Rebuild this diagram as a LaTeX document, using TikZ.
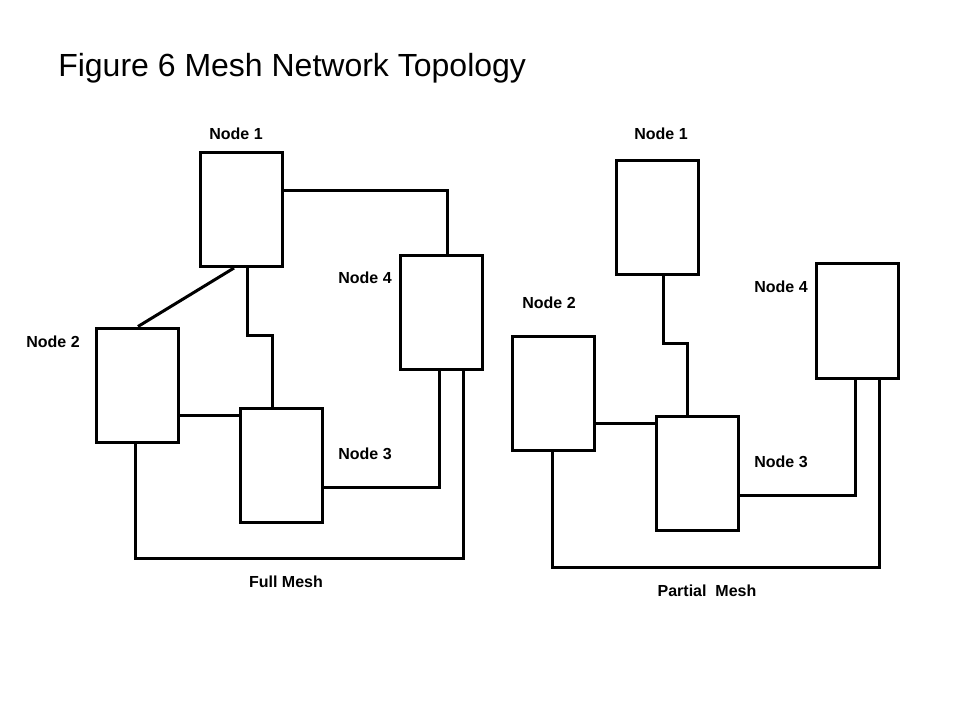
\documentclass[tikz,border=0pt]{standalone}
\usepackage{fontspec}
\setmainfont{Liberation Sans}
\usepackage{tikz}
\usetikzlibrary{positioning}

\begin{document}
\begin{tikzpicture}[
    x=0.75pt, y=-0.75pt,
    box/.style={rectangle, draw, line width=2.25pt, minimum width=61.5pt, minimum height=85.5pt, inner sep=0pt},
    lbl/.style={font=\fontsize{12}{14}\selectfont\bfseries, inner sep=0pt},
    link/.style={line width=2.25pt}
]
    \useasboundingbox (0,0) rectangle (960,720);

    % Title
    \node[anchor=base west, inner sep=0pt, font=\fontsize{24}{28}\selectfont] (title) at (58,77) {Figure 6 Mesh Network Topology};

    % Full mesh nodes
    \node[box] (lt1) at (241.5,209.5) {};
    \node[box] (lt4) at (441.5,312.5) {};
    \node[box] (lt2) at (137,385) {};
    \node[box] (lt3) at (281.5,465) {};

    \node[lbl] (lt1lbl) at (236,134) {Node 1};
    \node[lbl] (lt4lbl) at (365,278) {Node 4};
    \node[lbl] (lt2lbl) at (53,342) {Node 2};
    \node[lbl] (lt3lbl) at (365,454) {Node 3};
    \node[lbl] (fullcap) at (286,582) {Full Mesh};

    % Full mesh links
    \draw[link] (lt1.east |- 0,191) -| (lt4.north -| 447,0);
    \draw[link] (lt1.south -| 234,0) -- (lt2.north -| 138,0);
    \draw[link] (lt1.south -| 247,0) -- (247,335) -- (272,335) -- (lt3.north -| 272,0);
    \draw[link] (lt2.east |- 0,415) -- (lt3.west |- 0,415);
    \draw[link] (lt3.east |- 0,487) -| (lt4.south -| 439,0);
    \draw[link] (lt2.south -| 135,0) -- (135,558) -| (lt4.south -| 463,0);

    % Partial mesh nodes
    \node[box] (rt1) at (657.5,217.5) {};
    \node[box] (rt4) at (857,321) {};
    \node[box] (rt2) at (553.5,393.5) {};
    \node[box] (rt3) at (697.5,473.5) {};

    \node[lbl] (rt1lbl) at (661,134) {Node 1};
    \node[lbl] (rt4lbl) at (781,287) {Node 4};
    \node[lbl] (rt2lbl) at (549,303) {Node 2};
    \node[lbl] (rt3lbl) at (781,462) {Node 3};
    \node[lbl] (partcap) at (707,591) {Partial\ \ Mesh};

    % Partial mesh links
    \draw[link] (rt1.south -| 663,0) -- (663,343) -- (687,343) -- (rt3.north -| 687,0);
    \draw[link] (rt2.east |- 0,423) -- (rt3.west |- 0,423);
    \draw[link] (rt3.east |- 0,495) -| (rt4.south -| 855,0);
    \draw[link] (rt2.south -| 552,0) -- (552,567) -| (rt4.south -| 879,0);
\end{tikzpicture}
\end{document}
